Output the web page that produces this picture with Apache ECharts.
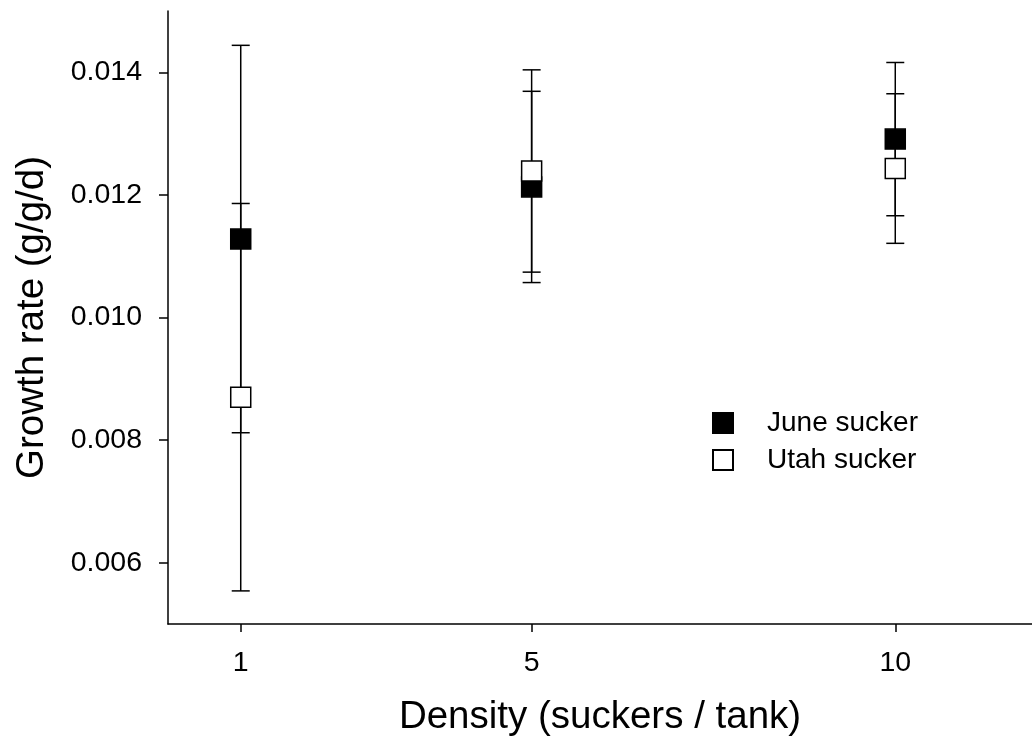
<!DOCTYPE html>
<html>
<head>
<meta charset="utf-8">
<script src="https://cdn.jsdelivr.net/npm/echarts@6/dist/echarts.min.js"></script>
<style>
  html, body { margin: 0; padding: 0; background: #fff; }
  #chart { width: 1032px; height: 745px; }
</style>
</head>
<body>
<div id="chart"></div>
<script>
// Stocking densities (suckers per tank)
const densities = [1, 5, 10];
// Mean growth rate (g/g/d) and standard error per density
const juneMean = [0.01128, 0.01213, 0.01291];
const juneErr  = [0.00316, 0.00156, 0.00125];
const utahMean = [0.00870, 0.01239, 0.01243];
const utahErr  = [0.00316, 0.00165, 0.00122];
// Axis tick labels
const xTicks = [1, 5, 10];
const yTicks = [0.006, 0.008, 0.010, 0.012, 0.014];

const FONT = '"Liberation Sans", Arial, Helvetica, sans-serif';

function points(means) {
  return densities.map((d, i) => [d, means[i]]);
}
function bars(means, errs) {
  return densities.map((d, i) => [d, means[i] - errs[i], means[i] + errs[i]]);
}

// Vertical error bar with short horizontal caps at both ends
function renderErrorBar(params, api) {
  const x = api.value(0);
  const lo = api.coord([x, api.value(1)]);
  const hi = api.coord([x, api.value(2)]);
  const half = 9;
  const style = { stroke: '#000', lineWidth: 1.5 };
  return {
    type: 'group',
    children: [
      { type: 'line', shape: { x1: lo[0], y1: lo[1], x2: hi[0], y2: hi[1] }, style },
      { type: 'line', shape: { x1: hi[0] - half, y1: hi[1], x2: hi[0] + half, y2: hi[1] }, style },
      { type: 'line', shape: { x1: lo[0] - half, y1: lo[1], x2: lo[0] + half, y2: lo[1] }, style }
    ]
  };
}

const chart = echarts.init(document.getElementById('chart'), null, { renderer: 'canvas' });

chart.setOption({
  animation: false,
  backgroundColor: '#fff',
  textStyle: { fontFamily: FONT },
  grid: { left: 168, right: 0, top: 11, bottom: 121, containLabel: false, outerBoundsMode: 'none' },
  legend: {
    orient: 'vertical',
    left: 707,
    top: 404,
    itemWidth: 20,
    itemHeight: 20,
    itemGap: 9,
    icon: 'rect',
    data: ['June sucker', 'Utah sucker'],
    textStyle: { fontFamily: FONT, fontSize: 28, color: '#000', lineHeight: 28, padding: [0, 0, 0, 29] }
  },
  xAxis: {
    type: 'value',
    min: 0,
    max: 11.88,
    name: 'Density (suckers / tank)',
    nameLocation: 'middle',
    nameGap: 74,
    nameTextStyle: { fontFamily: FONT, fontSize: 38.5, color: '#000' },
    axisLine: { show: true, onZero: false, lineStyle: { color: '#000', width: 1.5 } },
    axisTick: { show: true, inside: false, length: 8, customValues: xTicks, lineStyle: { color: '#000', width: 1.5 } },
    axisLabel: { customValues: xTicks, margin: 25, fontFamily: FONT, fontSize: 28.5, color: '#000' },
    splitLine: { show: false }
  },
  yAxis: {
    type: 'value',
    min: 0.005,
    max: 0.015,
    name: 'Growth rate (g/g/d)',
    nameLocation: 'middle',
    nameGap: 116,
    nameTextStyle: { fontFamily: FONT, fontSize: 38.5, color: '#000' },
    axisLine: { show: true, onZero: false, lineStyle: { color: '#000', width: 1.5 } },
    axisTick: { show: true, inside: false, length: 9, customValues: yTicks, lineStyle: { color: '#000', width: 1.5 } },
    axisLabel: {
      customValues: yTicks,
      margin: 26,
      fontFamily: FONT,
      fontSize: 28.5,
      color: '#000',
      formatter: v => v.toFixed(3)
    },
    splitLine: { show: false }
  },
  series: [
    {
      name: 'June sucker SE',
      type: 'custom',
      renderItem: renderErrorBar,
      encode: { x: 0, y: [1, 2] },
      data: bars(juneMean, juneErr),
      z: 1
    },
    {
      name: 'Utah sucker SE',
      type: 'custom',
      renderItem: renderErrorBar,
      encode: { x: 0, y: [1, 2] },
      data: bars(utahMean, utahErr),
      z: 1
    },
    {
      name: 'June sucker',
      type: 'scatter',
      symbol: 'rect',
      symbolSize: 20,
      itemStyle: { color: '#000', borderColor: '#000', borderWidth: 1.5, opacity: 1 },
      data: points(juneMean),
      z: 3
    },
    {
      name: 'Utah sucker',
      type: 'scatter',
      symbol: 'rect',
      symbolSize: 20,
      itemStyle: { color: '#fff', borderColor: '#000', borderWidth: 1.5, opacity: 1 },
      data: points(utahMean),
      z: 4
    }
  ]
});
</script>
</body>
</html>
